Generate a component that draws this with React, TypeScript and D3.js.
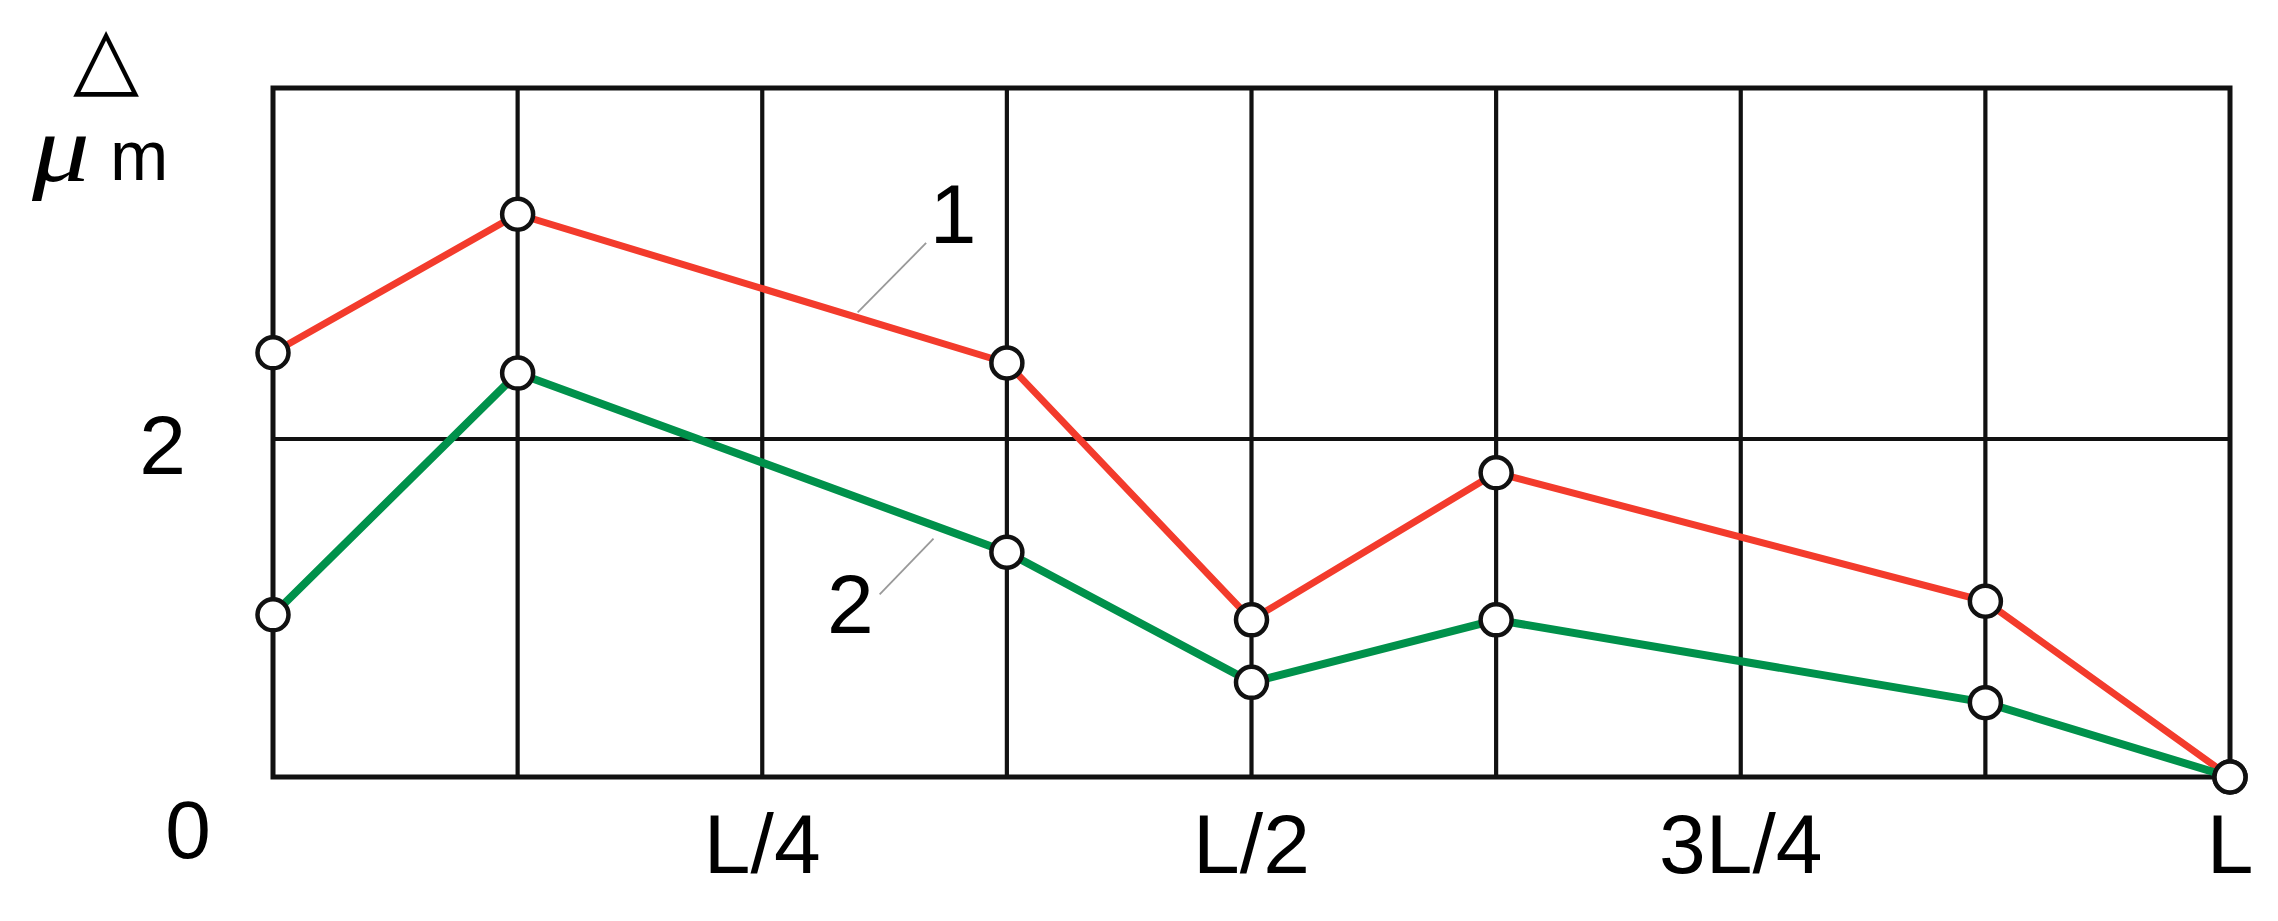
import React, {useEffect, useRef} from 'react';
import * as d3 from 'd3';

// positions along the beam, in eighths of L
const xPositions = [0, 1, 3, 4, 5, 7, 8];
// curve 1 (red) and curve 2 (green), deviation in micrometres
const series1 = [2.51, 3.33, 2.45, 0.93, 1.8, 1.04, 0.0];
const series2 = [0.96, 2.39, 1.33, 0.56, 0.93, 0.44, 0.0];

const xTickValues = [2, 4, 6, 8];
const xTickLabels = ['L/4', 'L/2', '3L/4', 'L'];
const yTickValues = [2];
const yTickLabels = ['2'];

// numbered leaders: label position and the two ends of the thin line (data units)
const leaderLabels = ['1', '2'];
const leaderLabelPos = [[2.78, 3.16], [2.36, 0.85]];
const leaderFrom = [[2.67, 3.16], [2.48, 1.08]];
const leaderTo = [[2.39, 2.75], [2.7, 1.41]];

const W = 2278;
const H = 921;
const RED = '#f33b2c';
const GREEN = '#00914b';

export default function App(){
    const svgRef = useRef(null);

    useEffect(()=>{
        const svg = d3.select(svgRef.current);
        svg.selectAll('*').remove();

        const left = 273, right = 2230, top = 88, bottom = 777;

        const xScale = d3.scaleLinear().domain([0, 8]).range([left, right]);
        const yScale = d3.scaleLinear().domain([0, 4.077]).range([bottom, top]);

        svg.append('rect').attr('width', W).attr('height', H).attr('fill', '#fff');

        //grid: vertical lines every L/8 and the single horizontal line at 2
        const g = svg.append('g');
        g.selectAll('.vgrid').data(d3.range(1, 8)).enter().append('line')
            .attr('class', 'vgrid')
            .attr('x1', d => xScale(d)).attr('x2', d => xScale(d))
            .attr('y1', top).attr('y2', bottom)
            .attr('stroke', '#111').attr('stroke-width', 4.2);
        g.selectAll('.hgrid').data(yTickValues).enter().append('line')
            .attr('class', 'hgrid')
            .attr('x1', left).attr('x2', right)
            .attr('y1', d => yScale(d)).attr('y2', d => yScale(d))
            .attr('stroke', '#111').attr('stroke-width', 4.2);
        g.append('rect')
            .attr('x', left).attr('y', top)
            .attr('width', right - left).attr('height', bottom - top)
            .attr('fill', 'none').attr('stroke', '#111').attr('stroke-width', 5);

        const font = 'Liberation Sans, Arial, sans-serif';

        //tick labels
        svg.selectAll('.xlab').data(xTickValues).enter().append('text')
            .attr('class', 'xlab')
            .attr('x', d => xScale(d)).attr('y', 873)
            .attr('text-anchor', 'middle')
            .attr('font-family', font).attr('font-size', 84)
            .text((d, i) => xTickLabels[i]);
        svg.append('text')
            .attr('x', 188).attr('y', 858)
            .attr('text-anchor', 'middle')
            .attr('font-family', font).attr('font-size', 82)
            .text('0');
        svg.selectAll('.ylab').data(yTickValues).enter().append('text')
            .attr('class', 'ylab')
            .attr('x', 186).attr('y', d => yScale(d) + 35)
            .attr('text-anchor', 'end')
            .attr('font-family', font).attr('font-size', 84)
            .text((d, i) => yTickLabels[i]);

        //axis unit: delta over micrometre
        svg.append('text')
            .attr('x', 106).attr('y', 86)
            .attr('text-anchor', 'middle')
            .attr('font-family', 'DejaVu Sans, sans-serif').attr('font-size', 86)
            .text('\u25B3');
        svg.append('text')
            .attr('transform', 'translate(32,181) scale(1.2,1)')
            .attr('font-family', 'Liberation Serif, serif').attr('font-style', 'italic')
            .attr('font-size', 96)
            .text('\u03BC');
        svg.append('text')
            .attr('x', 110).attr('y', 180)
            .attr('font-family', font).attr('font-size', 70)
            .text('m');

        //leaders
        svg.selectAll('.leader').data(leaderLabels).enter().append('line')
            .attr('class', 'leader')
            .attr('x1', (d, i) => xScale(leaderFrom[i][0])).attr('y1', (d, i) => yScale(leaderFrom[i][1]))
            .attr('x2', (d, i) => xScale(leaderTo[i][0])).attr('y2', (d, i) => yScale(leaderTo[i][1]))
            .attr('stroke', '#999').attr('stroke-width', 1.8);
        svg.selectAll('.leadlab').data(leaderLabels).enter().append('text')
            .attr('class', 'leadlab')
            .attr('x', (d, i) => xScale(leaderLabelPos[i][0])).attr('y', (d, i) => yScale(leaderLabelPos[i][1]))
            .attr('text-anchor', 'middle')
            .attr('font-family', font).attr('font-size', 84)
            .text(d => d);

        //the two curves
        const line = d3.line<number>()
            .x((d, i) => xScale(xPositions[i]))
            .y(d => yScale(d));
        const curves = [[series1, RED, 7], [series2, GREEN, 8]];
        curves.forEach(([vals, color, sw]) => {
            svg.append('path')
                .attr('d', line(vals as number[]))
                .attr('fill', 'none')
                .attr('stroke', color as string)
                .attr('stroke-width', sw as number)
                .attr('stroke-linejoin', 'miter');
        });

        //open circle markers on both curves
        curves.forEach(([vals]) => {
            svg.append('g').selectAll('circle').data(vals as number[]).enter().append('circle')
                .attr('cx', (d, i) => xScale(xPositions[i]))
                .attr('cy', d => yScale(d))
                .attr('r', 15.5)
                .attr('fill', '#fff')
                .attr('stroke', '#111')
                .attr('stroke-width', 4.5);
        });
    }, []);

    return (
        <div style={{position: 'absolute', left: 0, top: 0}}>
            <svg ref={svgRef} width={W} height={H} style={{display: 'block'}}></svg>
        </div>
    );
}
